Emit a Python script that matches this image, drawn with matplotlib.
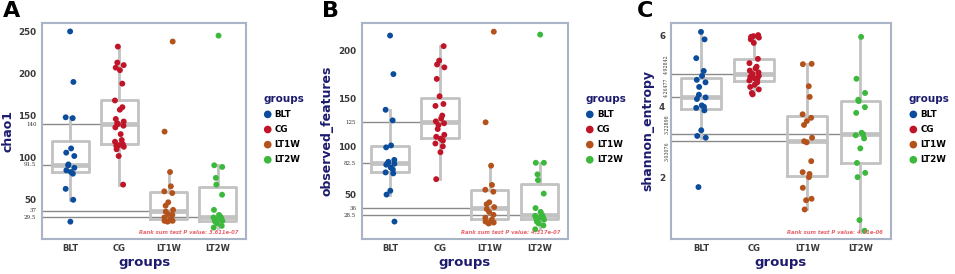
import numpy as np
import matplotlib
matplotlib.use("Agg")
import matplotlib.pyplot as plt

plt.rcParams["font.family"] = "DejaVu Sans"

groups = ["BLT", "CG", "LT1W", "LT2W"]
group_colors = ["#0b4c9c", "#c01428", "#b4521c", "#3cb83c"]

# chao1
chao1_blt = [250, 190, 148, 147, 111, 106, 102, 92, 91, 88, 85, 83, 81, 63, 50, 24]
chao1_cg = [68, 102, 110, 113, 114, 115, 116, 119, 121, 128, 136, 138, 140,
            141, 143, 146, 157, 160, 168, 188, 204, 207, 210, 213, 232]
chao1_lt1w = [238, 131, 83, 66, 60, 58, 47, 43, 38, 36, 33, 32, 29, 27, 26, 25, 25, 24]
chao1_lt2w = [245, 91, 89, 76, 68, 56, 38, 32, 30, 29, 28, 27, 26, 25, 24, 22, 19, 17]
chao1_p = "3.611e-07"

# observed_features
obs_blt = [215, 175, 138, 127, 101, 99, 86, 84, 83, 82, 81, 78, 76, 73, 72, 54, 50, 22]
obs_cg = [204, 189, 185, 182, 170, 152, 144, 142, 132, 129, 126, 124, 122,
          118, 112, 110, 108, 106, 103, 100, 94, 66]
obs_lt1w = [219, 125, 80, 60, 55, 53, 42, 40, 37, 35, 32, 29, 26, 24, 23, 22, 21, 20]
obs_lt2w = [216, 83, 83, 71, 65, 51, 36, 32, 29, 28, 27, 26, 25, 24, 22, 20, 18, 14]
obs_p = "4.317e-07"

# shannon_entropy
sh_blt = [6.11, 5.9, 5.37, 5.01, 4.87, 4.76, 4.69, 4.56, 4.34, 4.26477, 4.22,
          4.04, 4.0, 3.97, 3.9, 3.34, 3.18, 3.13, 1.74]
sh_cg = [6.02, 5.99, 5.97, 5.95, 5.9, 5.8, 5.35, 5.23, 5.13, 5.08, 5.02, 4.97,
         4.92842, 4.9, 4.87, 4.84, 4.8, 4.78, 4.74, 4.69, 4.62, 4.56, 4.49, 4.39, 4.35]
sh_lt1w = [5.21, 5.2, 4.58, 4.28, 3.79, 3.69, 3.6, 3.49, 3.13, 3.03076, 3.0,
           2.47, 2.16, 2.11, 2.02, 1.72, 1.41, 1.37, 1.11]
sh_lt2w = [5.97, 4.79, 4.39, 4.2, 4.16, 3.99, 3.83, 3.27, 3.22898, 3.2, 3.11,
           2.83, 2.42, 2.14, 2.02, 0.81, 0.51]
sh_p = "4.31e-06"

NAVY = "#1d1b6e"
BOX = "#c2c2c2"
SPINE = "#a9b5c6"


def plot_panel(ax, data, ylabel, yticks, ylim, pval, minor_va=None):
    pos = np.arange(len(groups))
    ax.set_xlim(-0.57, 3.57)
    ax.set_ylim(*ylim)

    medians = [np.median(d) for d in data]
    # median reference lines from the y axis to each group
    for x, m in zip(pos, medians):
        ax.plot([-0.57, x], [m, m], color="#8a8a8a", lw=1.0, zorder=1)

    ax.boxplot(data, positions=pos, widths=0.75, showfliers=False, showcaps=False,
               boxprops=dict(color=BOX, lw=2.0),
               whiskerprops=dict(color=BOX, lw=2.0),
               medianprops=dict(color=BOX, lw=3.4), zorder=2)

    for x, d, c, g in zip(pos, data, group_colors, groups):
        n = len(d)
        jit = 0.09 * np.sin(np.arange(n) * 2.3 + x)
        ax.scatter(x + jit, d, s=18, color=c, edgecolors="none", zorder=3, label=g)

    ax.set_xticks(pos)
    ax.set_xticklabels(groups, fontsize=6, fontweight="bold", color="#3a3a3a")
    ax.set_yticks(yticks)
    ax.set_yticklabels([f"{t:g}" for t in yticks], fontsize=6.3,
                       fontweight="bold", color="#3a3a3a")
    ax.set_yticks(medians, minor=True)
    ax.tick_params(which="both", length=0, pad=4)
    if minor_va is None:
        ax.set_yticklabels([f"{m:g}" for m in medians], minor=True, fontsize=4,
                           family="DejaVu Serif", color="#333333", va="center")
    else:
        labs = ax.set_yticklabels([f"{m:g}" for m in medians], minor=True,
                                  fontsize=3.4, family="DejaVu Serif",
                                  color="#333333", rotation=90)
        for lab, va in zip(labs, minor_va):
            lab.set_va(va)
        ax.tick_params(axis="y", which="minor", pad=1)

    ax.set_xlabel("groups", fontsize=9.5, fontweight="bold", color=NAVY, labelpad=2)
    ax.set_ylabel(ylabel, fontsize=9, fontweight="bold", color=NAVY, labelpad=3)

    for sp in ax.spines.values():
        sp.set_color(SPINE)
        sp.set_linewidth(1.5)

    ax.text(0.965, 0.02, f"Rank sum test P value: {pval}", transform=ax.transAxes,
            ha="right", va="bottom", fontsize=3.8, style="italic",
            fontweight="bold", color="#e8636b")

    leg = ax.legend(loc="center left", bbox_to_anchor=(1.055, 0.51), frameon=False,
                    title="groups", handletextpad=0.3, labelspacing=0.7,
                    handlelength=1.0, borderpad=0.2, markerscale=1.3,
                    prop=dict(size=6.3, weight="bold"),
                    title_fontproperties=dict(size=7.5, weight="bold"))
    leg.get_title().set_color(NAVY)
    leg._legend_box.align = "left"


fig = plt.figure(figsize=(9.55, 2.74), dpi=100)
ax_a = fig.add_axes([0.044, 0.128, 0.2136, 0.788])
ax_b = fig.add_axes([0.3787, 0.128, 0.216, 0.788])
ax_c = fig.add_axes([0.7023, 0.128, 0.2304, 0.788])

plot_panel(ax_a, [chao1_blt, chao1_cg, chao1_lt1w, chao1_lt2w], "chao1",
           [50, 100, 150, 200, 250], (3.5, 260), chao1_p)
plot_panel(ax_b, [obs_blt, obs_cg, obs_lt1w, obs_lt2w], "observed_features",
           [50, 100, 150, 200], (4, 228), obs_p)
plot_panel(ax_c, [sh_blt, sh_cg, sh_lt1w, sh_lt2w], "shannon_entropy",
           [2, 4, 6], (0.28, 6.36), sh_p,
           minor_va=["bottom", "bottom", "top", "bottom"])

for x, letter in [(0.003, "A"), (0.337, "B"), (0.667, "C")]:
    fig.text(x, 0.995, letter, fontsize=16, fontweight="bold", va="top", ha="left")

fig.savefig("out.png", dpi=100)
